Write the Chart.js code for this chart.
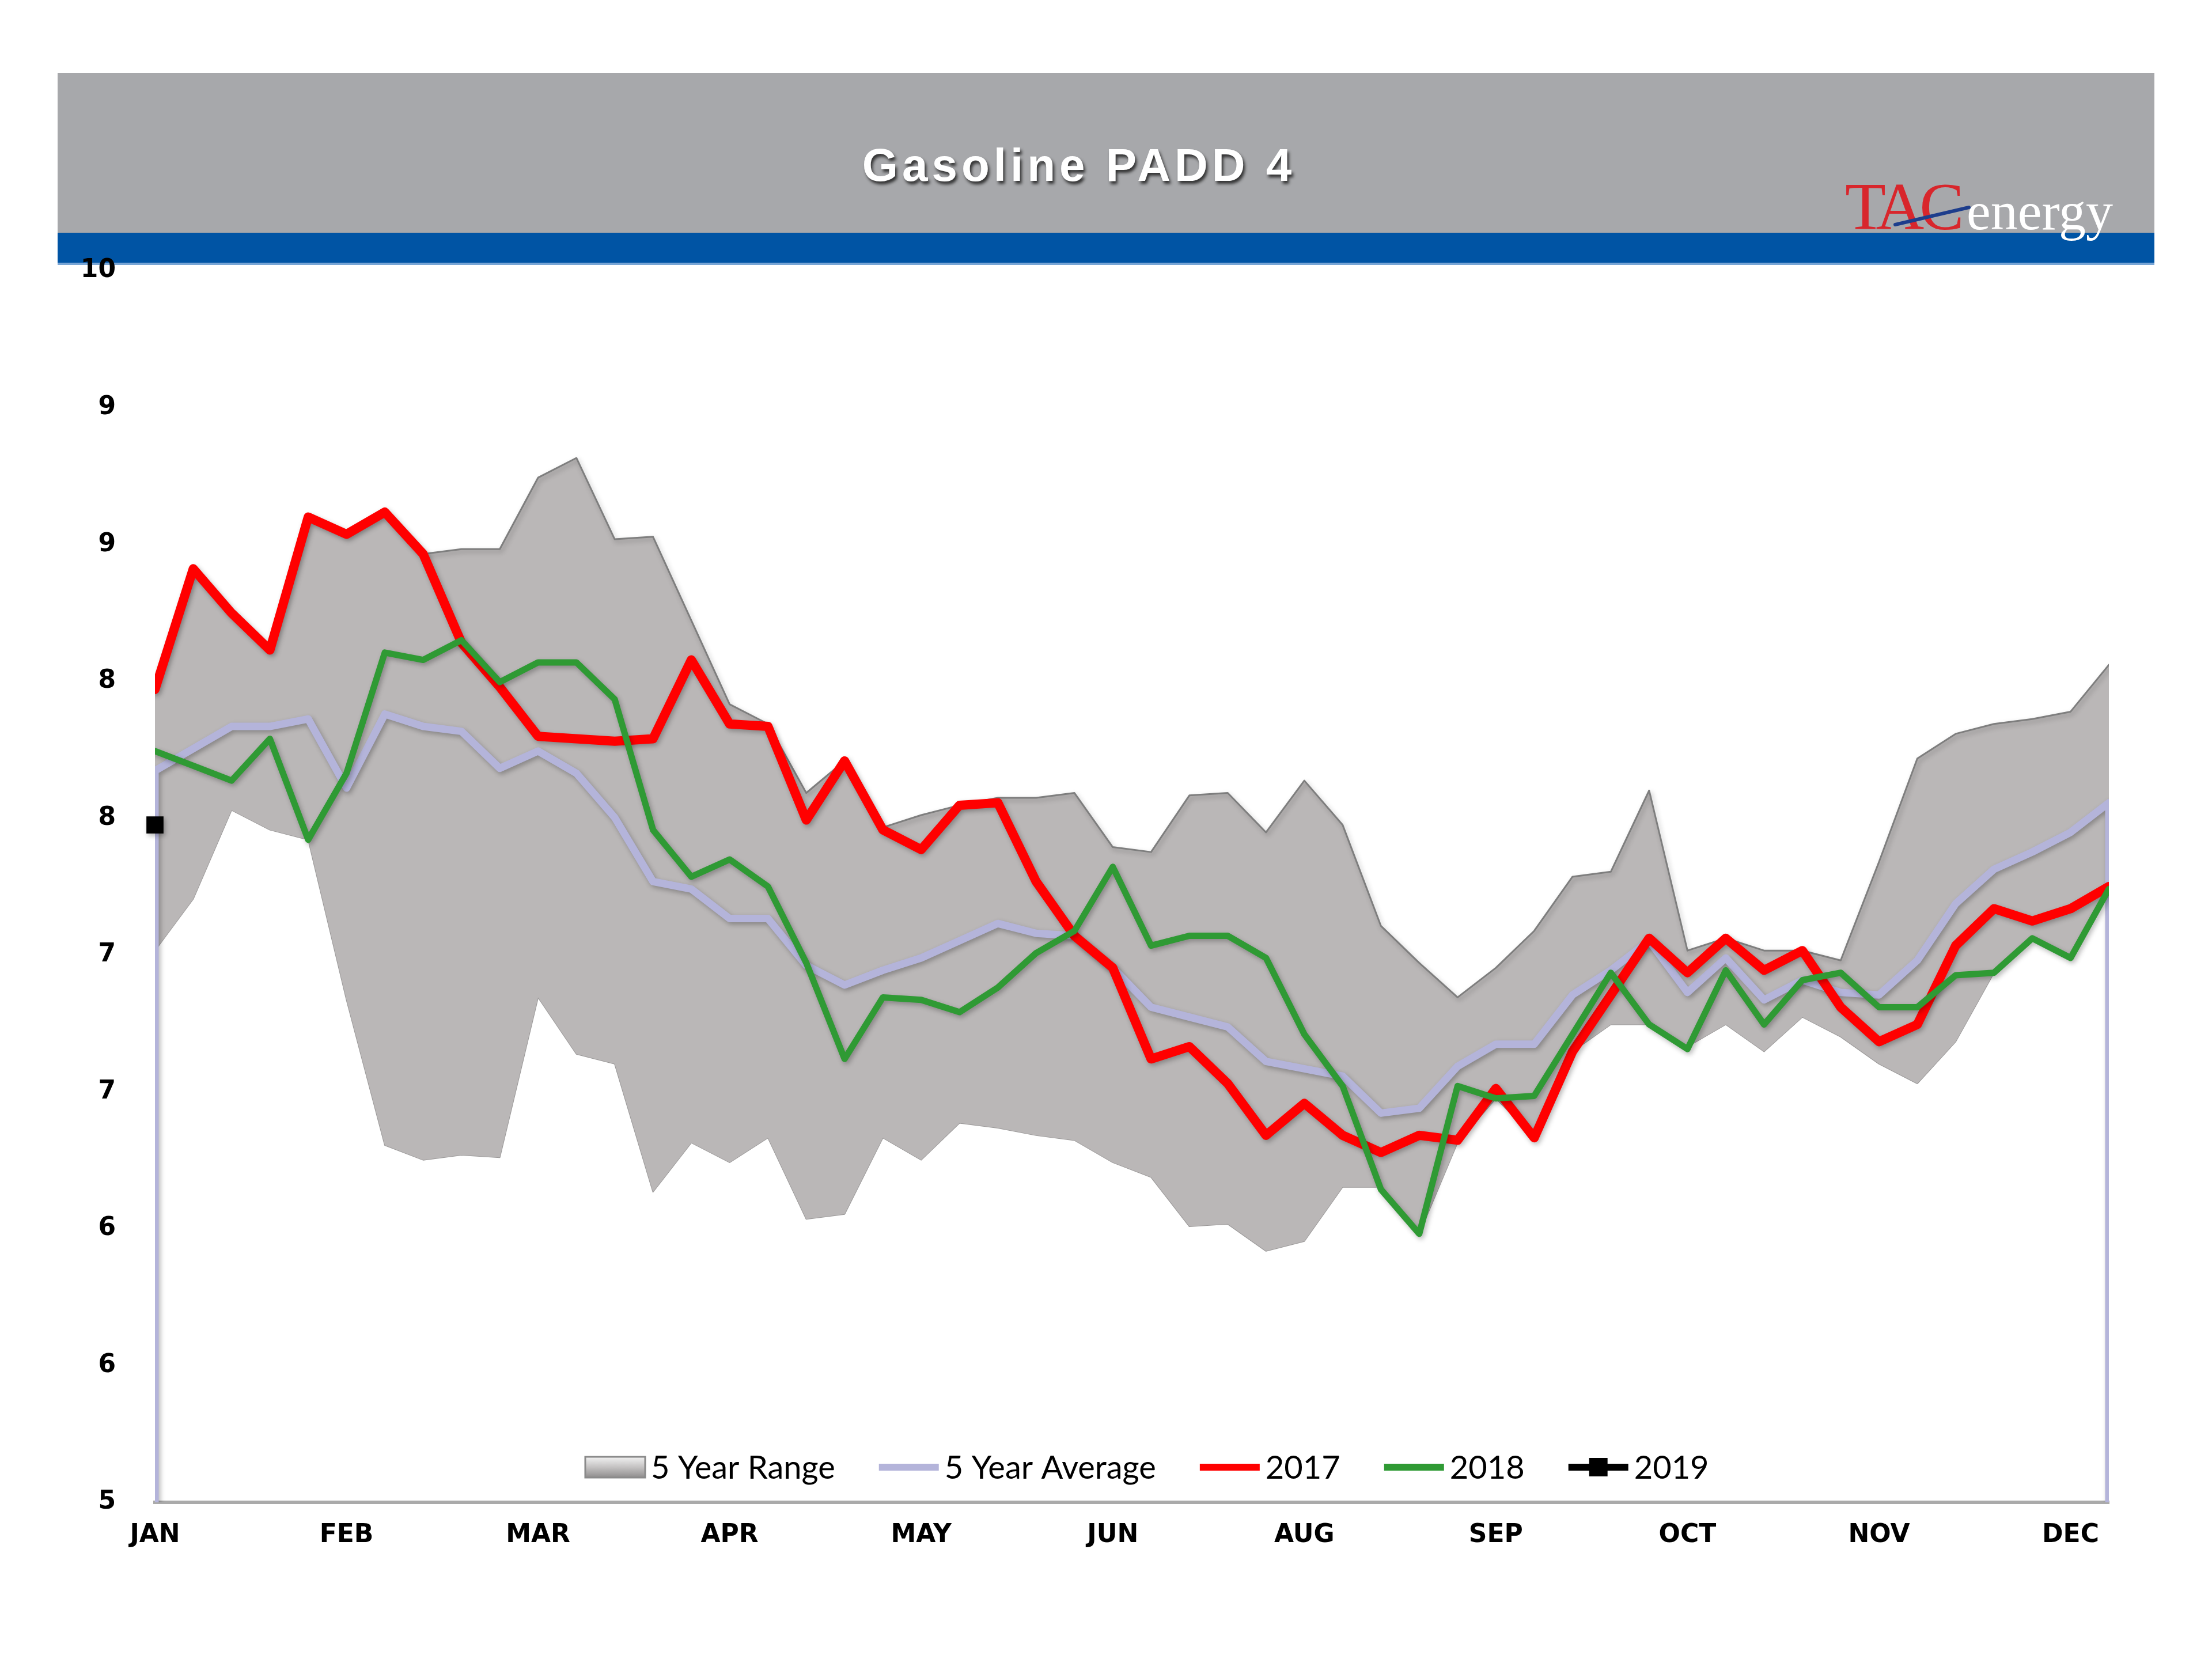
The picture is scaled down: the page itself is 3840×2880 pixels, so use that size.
<!DOCTYPE html>
<html>
<head>
<meta charset="utf-8">
<script src="https://cdn.jsdelivr.net/npm/chart.js@4.4.1/dist/chart.umd.min.js"></script>
<style>
    html, body { margin: 0; padding: 0; background: #fff; }
</style>
</head>
<body>
<canvas id="myChart" width="3840" height="2880"></canvas>
<script>
const chartTitle = 'Gasoline PADD 4';

// x axis: 52 weekly points, month label every 5th week (as in the original, no JUL)
const monthLabels = ['JAN', 'FEB', 'MAR', 'APR', 'MAY', 'JUN', 'AUG', 'SEP', 'OCT', 'NOV', 'DEC'];
const monthTickWeeks = [0, 5, 10, 15, 20, 25, 30, 35, 40, 45, 50];

// y axis goes 5..10, labels rounded like the source
const yMin = 5;
const yMax = 10;
const yTickLabels = ['5', '6', '6', '7', '7', '8', '8', '9', '9', '10'];

const rangeHigh = [8.30, 8.79, 8.61, 8.46, 9.00, 8.93, 9.02, 8.85, 8.87, 8.87,
    9.16, 9.24, 8.91, 8.92, 8.58, 8.24, 8.16, 7.88, 8.01, 7.74,
    7.79, 7.83, 7.86, 7.86, 7.88, 7.66, 7.64, 7.87, 7.88, 7.72,
    7.93, 7.75, 7.34, 7.19, 7.05, 7.17, 7.32, 7.54, 7.56, 7.89,
    7.24, 7.29, 7.24, 7.24, 7.20, 7.60, 8.02, 8.12, 8.16, 8.18,
    8.21, 8.40];
const rangeLow = [7.24, 7.45, 7.81, 7.73, 7.69, 7.04, 6.45, 6.39, 6.41, 6.40,
    7.05, 6.82, 6.78, 6.26, 6.46, 6.38, 6.48, 6.15, 6.17, 6.48,
    6.39, 6.54, 6.52, 6.49, 6.47, 6.38, 6.32, 6.12, 6.13, 6.02,
    6.06, 6.28, 6.28, 6.09, 6.46, 6.64, 6.48, 6.83, 6.94, 6.94,
    6.85, 6.94, 6.83, 6.97, 6.89, 6.78, 6.70, 6.87, 7.15, 7.29,
    7.21, 7.49];
const avg5yr = [7.97, 8.06, 8.15, 8.15, 8.18, 7.90, 8.20, 8.15, 8.13, 7.98,
    8.05, 7.96, 7.78, 7.52, 7.49, 7.37, 7.37, 7.18, 7.10, 7.16,
    7.21, 7.28, 7.35, 7.31, 7.30, 7.17, 7.01, 6.97, 6.93, 6.79,
    6.76, 6.73, 6.58, 6.60, 6.77, 6.86, 6.86, 7.06, 7.16, 7.28,
    7.07, 7.21, 7.04, 7.12, 7.07, 7.06, 7.20, 7.43, 7.57, 7.64,
    7.72, 7.84];
const y2017 = [8.30, 8.79, 8.61, 8.46, 9.00, 8.93, 9.02, 8.85, 8.49, 8.31,
    8.11, 8.10, 8.09, 8.10, 8.42, 8.16, 8.15, 7.77, 8.01, 7.73,
    7.65, 7.83, 7.84, 7.52, 7.30, 7.17, 6.80, 6.85, 6.70, 6.49,
    6.62, 6.49, 6.42, 6.49, 6.47, 6.68, 6.48, 6.83, 7.06, 7.29,
    7.15, 7.29, 7.16, 7.24, 7.01, 6.87, 6.94, 7.26, 7.41, 7.36,
    7.41, 7.50];
const y2018 = [8.05, 7.99, 7.93, 8.10, 7.69, 7.96, 8.45, 8.42, 8.50, 8.33,
    8.41, 8.41, 8.26, 7.73, 7.54, 7.61, 7.50, 7.19, 6.80, 7.05,
    7.04, 6.99, 7.09, 7.23, 7.32, 7.58, 7.26, 7.30, 7.30, 7.21,
    6.90, 6.69, 6.27, 6.09, 6.69, 6.64, 6.65, 6.90, 7.15, 6.94,
    6.84, 7.16, 6.94, 7.12, 7.15, 7.01, 7.01, 7.14, 7.15, 7.29,
    7.21, 7.49];
const y2019 = [7.75];

const legendOrder = ['5 Year Range', '5 Year Average', '2017', '2018', '2019'];

const toPoints = (arr) => arr.map((v, i) => ({ x: i, y: v }));

// the average series drops to the axis floor at both ends in the source chart
const avgPoints = [{ x: 0, y: yMin }, ...toPoints(avg5yr), { x: avg5yr.length - 1, y: yMin }];

const headerPlugin = {
    id: 'header',
    beforeDraw(chart) {
        const ctx = chart.ctx;
        ctx.save();
        ctx.fillStyle = '#ffffff';
        ctx.fillRect(0, 0, chart.width, chart.height);

        // grey title band + blue strip
        ctx.fillStyle = '#a7a8ab';
        ctx.fillRect(100, 127, 3640, 279);
        ctx.fillStyle = '#0054a4';
        ctx.fillRect(100, 404, 3640, 56);
        ctx.fillStyle = 'rgba(150,185,225,0.8)';
        ctx.fillRect(100, 456, 3640, 4);

        // title
        ctx.shadowColor = 'rgba(30,30,30,0.85)';
        ctx.shadowOffsetX = 3;
        ctx.shadowOffsetY = 5;
        ctx.shadowBlur = 5;
        ctx.fillStyle = '#ffffff';
        ctx.font = 'bold 80px "Liberation Sans", Arial, sans-serif';
        ctx.letterSpacing = '7px';
        ctx.textAlign = 'center';
        ctx.textBaseline = 'middle';
        ctx.fillText(chartTitle, 1873, 292);
        ctx.restore();

        // logo
        ctx.save();
        ctx.textAlign = 'left';
        ctx.textBaseline = 'alphabetic';
        ctx.font = '116px "Liberation Serif", "Times New Roman", serif';
        ctx.letterSpacing = '-8px';
        ctx.fillStyle = '#d8262c';
        ctx.fillText('TAC', 3203, 398);
        ctx.font = '94px "Liberation Serif", "Times New Roman", serif';
        ctx.letterSpacing = '0px';
        ctx.fillStyle = '#ffffff';
        ctx.fillText('energy', 3414, 398);
        ctx.strokeStyle = '#1d3d8c';
        ctx.lineWidth = 6;
        ctx.lineCap = 'round';
        ctx.beginPath();
        ctx.moveTo(3290, 390);
        ctx.lineTo(3418, 360);
        ctx.stroke();
        ctx.restore();
    },
};

const shadowPlugin = {
    id: 'lineShadow',
    beforeDatasetDraw(chart, args) {
        const ctx = chart.ctx;
        ctx.save();
        if (args.index < 5) {
            ctx.shadowColor = 'rgba(0,0,0,0.28)';
            ctx.shadowBlur = 8;
            ctx.shadowOffsetX = 3;
            ctx.shadowOffsetY = 4;
        }
    },
    afterDatasetDraw(chart) {
        chart.ctx.restore();
    },
};

const insideLegend = {
    id: 'insideLegend',
    afterDraw(chart) {
        const ctx = chart.ctx;
        const yc = 2547;
        const swatch = 104;
        let x = 1016;
        ctx.save();
        ctx.font = '56px Lato, "Open Sans", sans-serif';
        ctx.textBaseline = 'middle';
        ctx.textAlign = 'left';
        legendOrder.forEach((label) => {
            const ds = chart.data.datasets.find(d => d.label === label);
            if (label === '5 Year Range') {
                const g = ctx.createLinearGradient(0, yc - 18, 0, yc + 18);
                g.addColorStop(0, '#f2f2f2');
                g.addColorStop(0.5, '#c4c2c2');
                g.addColorStop(1, '#8f8d8d');
                ctx.fillStyle = g;
                ctx.fillRect(x, yc - 18, swatch, 36);
                ctx.strokeStyle = '#8a8a8a';
                ctx.lineWidth = 3;
                ctx.strokeRect(x, yc - 18, swatch, 36);
            } else {
                ctx.strokeStyle = ds.borderColor;
                ctx.lineWidth = 12;
                ctx.beginPath();
                ctx.moveTo(x, yc);
                ctx.lineTo(x + swatch, yc);
                ctx.stroke();
                if (label === '2019') {
                    ctx.fillStyle = '#000';
                    ctx.fillRect(x + swatch / 2 - 16, yc - 16, 32, 32);
                }
            }
            x += swatch + 10;
            ctx.fillStyle = '#000';
            ctx.fillText(label, x, yc + 2);
            x += ctx.measureText(label).width + 76;
        });
        ctx.restore();
    },
};

const ctx = document.getElementById('myChart').getContext('2d');
const chart = new Chart(ctx, {
    type: 'line',
    data: {
        datasets: [
            {
                label: '2019',
                data: toPoints(y2019),
                borderColor: '#000000',
                backgroundColor: '#000000',
                borderWidth: 10,
                pointStyle: 'rect',
                pointRadius: 21,
                pointBorderWidth: 0,
                clip: false,
                order: 0,
            },
            {
                label: '2018',
                data: toPoints(y2018),
                borderColor: '#2f9a34',
                borderWidth: 11,
                pointRadius: 0,
                order: 1,
            },
            {
                label: '2017',
                data: toPoints(y2017),
                borderColor: '#ff0000',
                borderWidth: 16,
                pointRadius: 0,
                order: 2,
            },
            {
                label: '5 Year Average',
                data: avgPoints,
                borderColor: '#b4b4da',
                borderWidth: 13,
                pointRadius: 0,
                order: 3,
            },
            {
                label: '5 Year Range',
                data: toPoints(rangeHigh),
                borderColor: '#7e7e7e',
                borderWidth: 3,
                backgroundColor: '#bab7b7',
                pointRadius: 0,
                fill: '+1',
                order: 4,
            },
            {
                label: '5 Year Range Low',
                data: toPoints(rangeLow),
                borderColor: '#9a9898',
                borderWidth: 2,
                pointRadius: 0,
                fill: false,
                order: 5,
            },
        ],
    },
    options: {
        responsive: false,
        animation: false,
        devicePixelRatio: 1,
        elements: { line: { tension: 0, borderJoinStyle: 'round', borderCapStyle: 'round' } },
        layout: { padding: { top: 470, right: 179, bottom: 0, left: 0 } },
        plugins: {
            legend: { display: false },
            title: { display: false },
            tooltip: { enabled: false },
        },
        scales: {
            x: {
                type: 'linear',
                min: 0,
                max: rangeHigh.length - 1,
                grid: { display: false, drawTicks: false },
                border: { display: true, color: '#aaaaaa', width: 6 },
                afterBuildTicks: (scale) => {
                    scale.ticks = monthTickWeeks.map(w => ({ value: w }));
                },
                afterFit: (scale) => { scale.height = 272; },
                ticks: {
                    padding: 31,
                    color: '#000',
                    maxRotation: 0,
                    autoSkip: false,
                    font: { family: '"DejaVu Sans", sans-serif', weight: 'bold', size: 44 },
                    callback: (value, index) => monthLabels[index],
                },
            },
            y: {
                min: yMin,
                max: yMax,
                grid: { display: false, drawTicks: false },
                border: { display: false },
                afterBuildTicks: (scale) => {
                    const step = (yMax - yMin) / (yTickLabels.length - 1);
                    scale.ticks = yTickLabels.map((l, i) => ({ value: yMin + i * step }));
                },
                afterFit: (scale) => { scale.width = 269; },
                ticks: {
                    padding: 68,
                    color: '#000',
                    autoSkip: false,
                    font: { family: '"DejaVu Sans", sans-serif', weight: 'bold', size: 44 },
                    callback: (value, index) => yTickLabels[index],
                },
            },
        },
    },
    plugins: [headerPlugin, shadowPlugin, insideLegend],
});
</script>
</body>
</html>
